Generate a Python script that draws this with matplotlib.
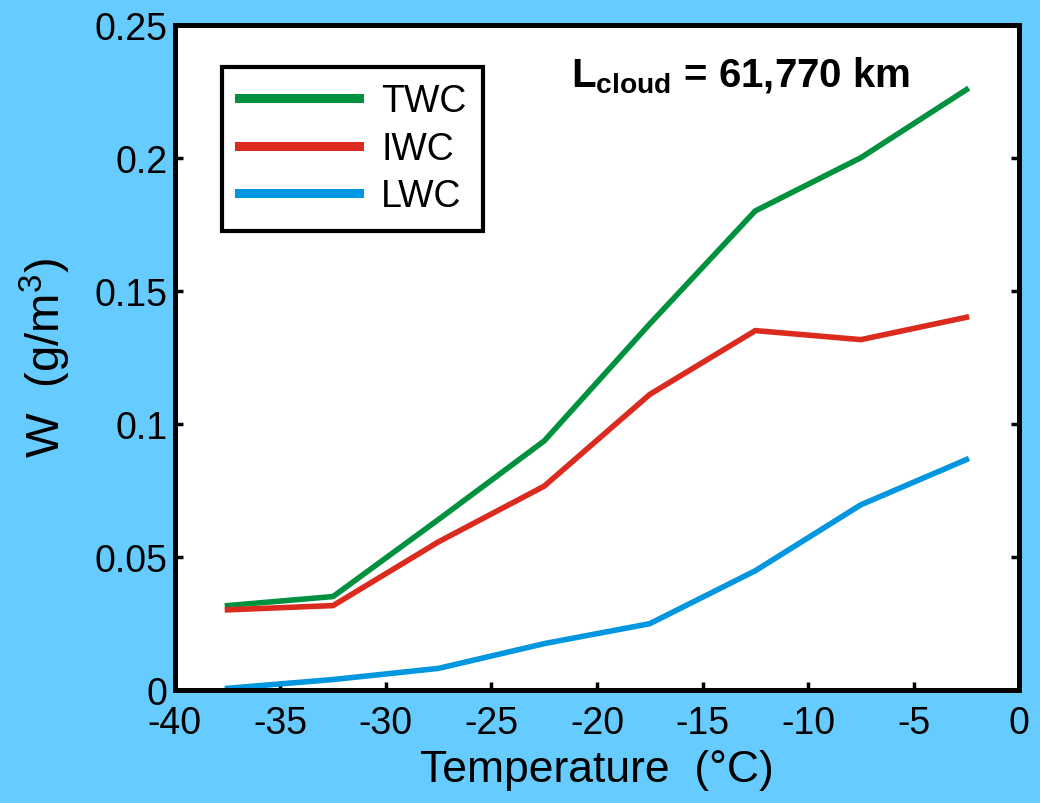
import matplotlib.pyplot as plt
import numpy as np

plt.rcParams['font.family'] = ['Liberation Sans', 'DejaVu Sans']
plt.rcParams['mathtext.fontset'] = 'custom'
plt.rcParams['mathtext.rm'] = 'Liberation Sans'
plt.rcParams['mathtext.bf'] = 'Liberation Sans:bold'
plt.rcParams['axes.unicode_minus'] = False

temp = [-37.5, -32.5, -27.5, -22.5, -17.5, -12.5, -7.5, -2.5]
twc = [0.0316, 0.035, 0.064, 0.0935, 0.1375, 0.180, 0.200, 0.2256]
iwc = [0.030, 0.0316, 0.0556, 0.0765, 0.111, 0.135, 0.1316, 0.140]
lwc = [0.0005, 0.0038, 0.008, 0.0173, 0.0248, 0.0447, 0.0695, 0.0865]
xticks = [-40, -35, -30, -25, -20, -15, -10, -5, 0]
yticks = [0, 0.05, 0.1, 0.15, 0.2, 0.25]
ytick_labels = ['0', '0.05', '0.1', '0.15', '0.2', '0.25']

bg = '#66ccff'
fig = plt.figure(figsize=(10.4, 8.04), dpi=100, facecolor=bg)
ax = fig.add_axes([0.168, 0.141, 0.812, 0.827])

ax.plot(temp, twc, color='#00913f', lw=4, label='TWC')
ax.plot(temp, iwc, color='#db2a1e', lw=4, label='IWC')
ax.plot(temp, lwc, color='#0096e0', lw=4, label='LWC')

ax.set_xlim(-40, 0)
ax.set_ylim(0, 0.25)
ax.set_xticks(xticks)
ax.set_yticks(yticks)
ax.set_yticklabels(ytick_labels)
ax.tick_params(direction='in', length=6, width=2.5, labelsize=27,
               top=False, right=True)
ax.tick_params(axis='x', pad=11)
ax.tick_params(axis='y', pad=5)
for s in ax.spines.values():
    s.set_linewidth(3.6)

ax.set_xlabel('Temperature  (°C)', fontsize=32, labelpad=6)
ax.set_ylabel('W  (g/m$^3$)', fontsize=34, labelpad=16)

leg = ax.legend(loc='upper left', bbox_to_anchor=(0.0556, 0.937), fontsize=27,
                handlelength=3.2, handletextpad=0.6, frameon=True, fancybox=False,
                edgecolor='black', borderpad=0.45, labelspacing=0.3,
                borderaxespad=0)
leg.get_frame().set_linewidth(3)
leg.get_frame().set_alpha(1)
for line in leg.get_lines():
    line.set_linewidth(6.5)

ax.text(0.67, 0.925, '$\\mathbf{L_{cloud}}$ = 61,770 km', transform=ax.transAxes,
        fontsize=29, fontweight='bold', ha='center', va='center')

fig.savefig('out.png', dpi=100, facecolor=bg)
